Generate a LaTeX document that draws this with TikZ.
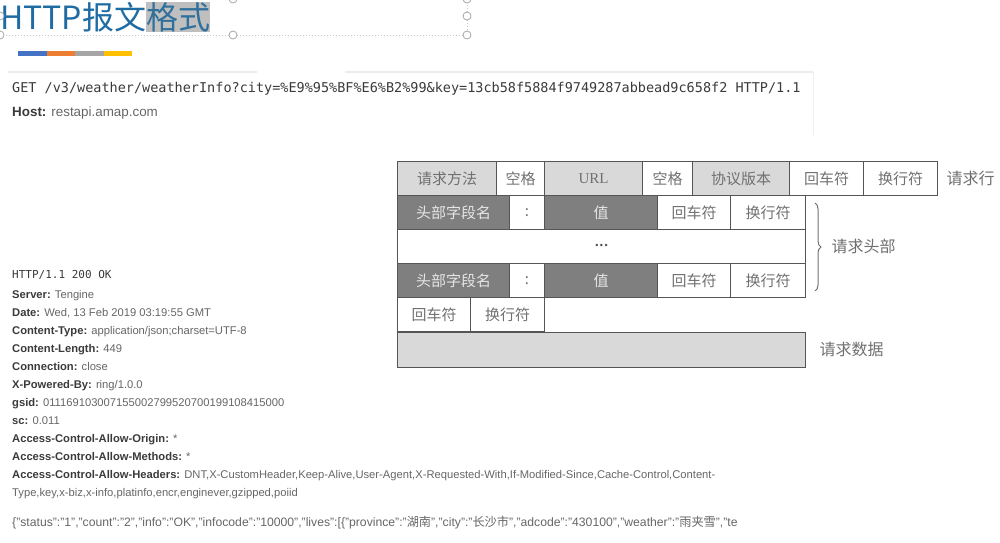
\documentclass[tikz,border=0pt]{standalone}
\usepackage{fontspec}
\setmainfont{Liberation Sans}
\newfontfamily\cjk{Noto Sans CJK SC}
\newfontfamily\monofont{DejaVu Sans Mono}
\newfontfamily\serifont{Liberation Serif}
\usetikzlibrary{decorations.pathreplacing}
\definecolor{titleblue}{HTML}{1F6CA3}
\definecolor{selgray}{HTML}{BFBFBF}
\definecolor{barblue}{HTML}{4472C4}
\definecolor{barorange}{HTML}{ED7D31}
\definecolor{bargray}{HTML}{A5A5A5}
\definecolor{baryellow}{HTML}{FFC000}
\definecolor{darkline}{HTML}{555555}
\definecolor{lightcell}{HTML}{D9D9D9}
\definecolor{darkcell}{HTML}{7F7F7F}
\definecolor{darktext}{HTML}{E6E6E6}
\definecolor{celltext}{HTML}{707070}
\definecolor{keygray}{HTML}{3A3A3A}
\definecolor{valgray}{HTML}{666666}
\newcommand\fieldname[1]{{\bfseries\color{keygray}#1}}

\begin{document}
\begin{tikzpicture}[x=1pt,y=-1pt,
    cell/.style={draw=darkline,line width=1.1pt,anchor=north west,minimum height=34pt,
      inner sep=0pt,text=celltext,font=\cjk\fontsize{15}{15}\selectfont},
    light/.style={cell,fill=lightcell},
    dark/.style={cell,fill=darkcell,text=darktext},
    side/.style={anchor=west,text=celltext,font=\cjk\fontsize{16}{16}\selectfont},
    handle/.style={circle,draw=gray!70,fill=white,line width=0.8pt,minimum size=8pt,inner sep=0pt}]
  \useasboundingbox (0,0) rectangle (1000,542);
  % title with selection frame
  \draw[gray!45,dotted,line width=1pt] (0,35) -- (467,35) (467,-1) -- (467,35);
  \node[anchor=west,inner sep=0pt,text=titleblue,font=\cjk\fontsize{32}{32}\selectfont] (title) at (0,17)
    {HTTP报文{\setlength\fboxsep{0pt}\colorbox{selgray}{\color{titleblue!80!gray}格式}}};
  \foreach \x/\y [count=\i] in {0/35,233/35,467/35,467/16,0/16,233/-1,467/-1}
    \node[handle] (h\i) at (\x,\y) {};
  \foreach \c [count=\i from 0] in {barblue,barorange,bargray,baryellow}
    \fill[\c] (18+28.5*\i,51) rectangle ++(28.5,5);

  % request example
  \draw[gray!15,line width=2.5pt] (8,72) -- (257,72) (345,72) -- (813,72);
  \draw[gray!12,line width=1pt] (813,72) -- (813,135);
  \node[anchor=west,inner sep=0pt,text=keygray,font=\monofont\fontsize{13.5}{14}\selectfont] (get) at (12,89)
    {GET /v3/weather/weatherInfo?city=\%E9\%95\%BF\%E6\%B2\%99\&key=13cb58f5884f9749287abbead9c658f2 HTTP/1.1};
  \node[anchor=west,inner sep=0pt,text=valgray,font=\fontsize{13.4}{14}\selectfont] (host) at (12,113)
    {\fieldname{Host:} restapi.amap.com};

  % request format
  \node[light,minimum width=99pt] (method) at (397,161) {请求方法};
  \node[cell,minimum width=48pt] (sp1) at (496,161) {空格};
  \node[light,minimum width=98pt,font=\serifont\fontsize{15}{15}\selectfont] (url) at (544,161) {URL};
  \node[cell,minimum width=50pt] (sp2) at (642,161) {空格};
  \node[light,minimum width=97pt] (ver) at (692,161) {协议版本};
  \node[cell,minimum width=74pt] (cr1) at (789,161) {回车符};
  \node[cell,minimum width=74pt] (lf1) at (863,161) {换行符};
  \node[side] (lineLbl) at (943,178) {请求行};

  \node[dark,minimum width=112pt] (key1) at (397,195) {头部字段名};
  \node[cell,minimum width=35pt] (col1) at (509,195) {:};
  \node[dark,minimum width=113pt] (val1) at (544,195) {值};
  \node[cell,minimum width=73pt] (cr2) at (657,195) {回车符};
  \node[cell,minimum width=75pt] (lf2) at (730,195) {换行符};

  \node[cell,minimum width=408pt,text=darkline,font=\fontsize{9}{9}\selectfont] (dots) at (397,229)
    {\textbullet\,\textbullet\,\textbullet};

  \node[dark,minimum width=112pt] (key2) at (397,263) {头部字段名};
  \node[cell,minimum width=35pt] (col2) at (509,263) {:};
  \node[dark,minimum width=113pt] (val2) at (544,263) {值};
  \node[cell,minimum width=73pt] (cr3) at (657,263) {回车符};
  \node[cell,minimum width=75pt] (lf3) at (730,263) {换行符};

  \node[cell,minimum width=73pt] (cr4) at (397,297) {回车符};
  \node[cell,minimum width=74pt] (lf4) at (470,297) {换行符};

  \node[light,minimum width=408pt,minimum height=35pt] (body) at (397,332) {};
  \node[side] (bodyLbl) at (816,349) {请求数据};

  \coordinate (braceTop) at (815,203);
  \coordinate (braceBot) at (815,291);
  \draw[celltext,line width=1pt,decorate,decoration={brace,amplitude=6pt}] (braceTop) -- (braceBot);
  \node[side] (headLbl) at (828,246) {请求头部};

  % response example
  \node[anchor=north west,align=left,inner sep=0pt,text=valgray,font=\fontsize{11.2}{18}\selectfont] (resp) at (12,270)
    {{\monofont\color{keygray}\fontsize{11}{18}\selectfont HTTP/1.1 200 OK}\\[2pt]
     \fieldname{Server:} Tengine\\
     \fieldname{Date:} Wed, 13 Feb 2019 03:19:55 GMT\\
     \fieldname{Content-Type:} application/json;charset=UTF-8\\
     \fieldname{Content-Length:} 449\\
     \fieldname{Connection:} close\\
     \fieldname{X-Powered-By:} ring/1.0.0\\
     \fieldname{gsid:} 011169103007155002799520700199108415000\\
     \fieldname{sc:} 0.011\\
     \fieldname{Access-Control-Allow-Origin:} *\\
     \fieldname{Access-Control-Allow-Methods:} *\\
     \fieldname{Access-Control-Allow-Headers:} DNT,X-CustomHeader,Keep-Alive,User-Agent,X-Requested-With,If-Modified-Since,Cache-Control,Content-\\
     Type,key,x-biz,x-info,platinfo,encr,enginever,gzipped,poiid};
  \node[anchor=west,inner sep=0pt,text=valgray,font=\fontsize{12.2}{14}\selectfont] (json) at (12,523)
    {\{"status":"1","count":"2","info":"OK","infocode":"10000","lives":[\{"province":"{\cjk 湖南}","city":"{\cjk 长沙市}","adcode":"430100","weather":"{\cjk 雨夹雪}","te};
\end{tikzpicture}
\end{document}
